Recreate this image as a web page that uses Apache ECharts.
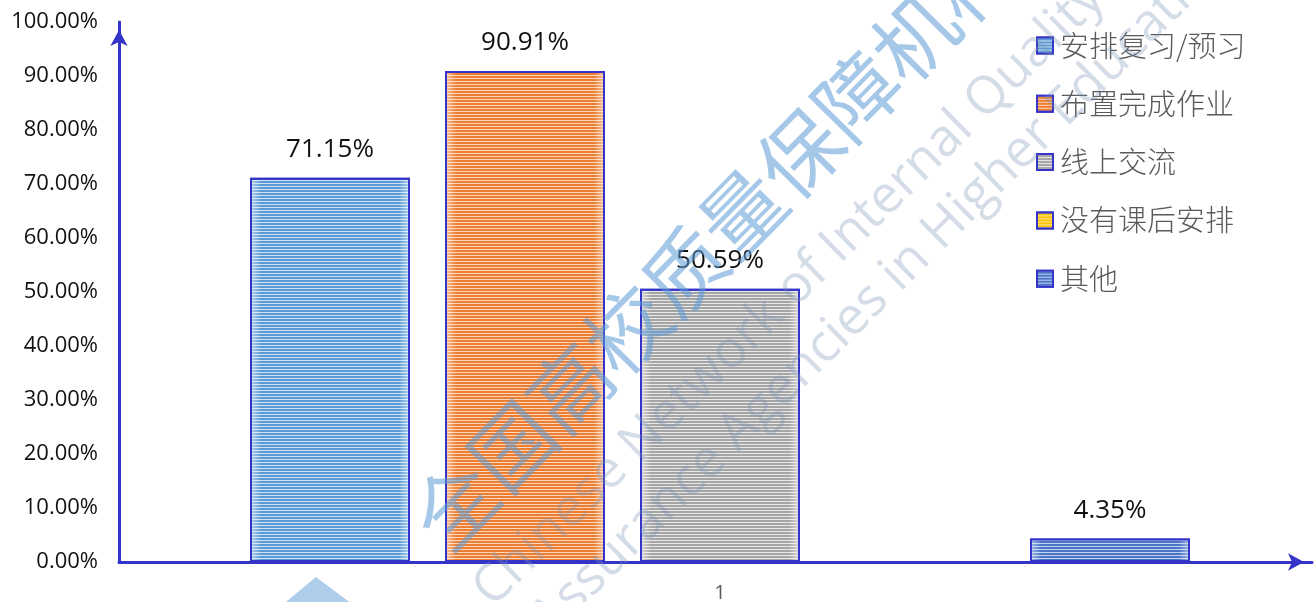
<!DOCTYPE html>
<html>
<head>
<meta charset="utf-8">
<script src="https://cdn.jsdelivr.net/npm/echarts@6/dist/echarts.min.js"></script>
<style>html,body{margin:0;padding:0;background:#fff}#c{width:1314px;height:602px}</style>
</head>
<body>
<div id="c"></div>
<script>
const categories = ['1'];
const seriesNames = ['安排复习/预习', '布置完成作业', '线上交流', '没有课后安排', '其他'];
const values = [71.15, 90.91, 50.59, null, 4.35];
const yTicks = [0, 10, 20, 30, 40, 50, 60, 70, 80, 90, 100];

const baseColors = ['#5b9bd5', '#ed7d31', '#a5a5a5', '#ffc000', '#4a74c6'];
const edgeColors = ['#b9d5ee', '#f8c8a6', '#dcdcdc', '#ffe08a', '#a9bfe6'];
const stripeColors = ['rgba(235,243,252,0.8)', 'rgba(255,238,225,0.8)', 'rgba(245,245,245,0.85)', 'rgba(255,245,205,0.8)', 'rgba(225,233,250,0.8)'];
const AXIS = '#3434c8';

const chart = echarts.init(document.getElementById('c'));
const series = seriesNames.map((name, i) => ({
  name: name,
  type: 'bar',
  xAxisIndex: 1,
  yAxisIndex: 1,
  barWidth: 160,
  barGap: '21.875%',
  data: [values[i] === null ? '-' : values[i]],
  itemStyle: {
    color: {
      type: 'linear', x: 0, y: 0, x2: 1, y2: 0,
      colorStops: [
        { offset: 0, color: edgeColors[i] },
        { offset: 0.07, color: baseColors[i] },
        { offset: 0.93, color: baseColors[i] },
        { offset: 1, color: edgeColors[i] }
      ]
    },
    borderColor: AXIS,
    borderWidth: 2,
    decal: {
      symbol: 'rect',
      symbolSize: 1,
      dashArrayX: [1, 0],
      dashArrayY: [1, 2],
      rotation: 0,
      color: stripeColors[i]
    }
  },
  label: {
    show: true,
    position: 'top',
    distance: 15,
    formatter: p => p.value.toFixed(2) + '%',
    fontSize: 26,
    color: '#111',
    fontFamily: 'Open Sans'
  }
}));

const rad = Math.PI / 180;
const option = {
  animation: false,
  backgroundColor: '#fff',
  legend: {
    orient: 'vertical',
    left: 1031,
    top: 26,
    itemWidth: 16,
    itemHeight: 16,
    itemGap: 29.3,
    icon: 'rect',
    data: seriesNames,
    textStyle: { fontSize: 29, color: '#5a5a5a', fontFamily: 'Noto Sans CJK SC', fontWeight: 300, padding: [0, 0, 0, 2] }
  },
  grid: [
    { left: 119, right: 2, top: 22, bottom: 40, outerBoundsMode: 'none' },
    { left: 119, width: 1202, top: 22, bottom: 40, outerBoundsMode: 'none' }
  ],
  xAxis: [
    {
      type: 'category', gridIndex: 0, data: categories,
      axisLine: { show: true, lineStyle: { color: AXIS, width: 3 }, symbol: ['none', 'arrow'], symbolSize: [13, 16], symbolOffset: [0, -8] },
      axisTick: { show: false },
      axisLabel: { show: false }
    },
    {
      type: 'category', gridIndex: 1, data: categories,
      axisLine: { show: false },
      axisTick: { show: false },
      axisLabel: { show: true, margin: 21, fontSize: 20, color: '#595959', fontFamily: 'Open Sans' }
    }
  ],
  yAxis: [
    {
      type: 'value', gridIndex: 0, min: 0, max: 100, interval: 10,
      axisLine: { show: true, lineStyle: { color: AXIS, width: 3 }, symbol: ['none', 'arrow'], symbolSize: [13, 16], symbolOffset: [0, -8] },
      axisTick: { show: false },
      splitLine: { show: false },
      axisLabel: { margin: 21, fontSize: 22, color: '#111', fontFamily: 'Open Sans', formatter: v => v.toFixed(2) + '%' }
    },
    {
      type: 'value', gridIndex: 1, min: 0, max: 100, interval: 10,
      axisLine: { show: false }, axisTick: { show: false }, splitLine: { show: false }, axisLabel: { show: false }
    }
  ],
  series: series,
  graphic: [
    {
      type: 'text', z: 100, x: 426, y: 534, rotation: 45.5 * rad,
      style: { text: '全国高校质量保障机构联盟', fill: 'rgba(91,155,213,0.55)', fontSize: 82, fontFamily: 'Noto Sans CJK SC', verticalAlign: 'middle', align: 'left' }
    },
    {
      type: 'text', z: 100, x: 482, y: 598, rotation: 44.7 * rad,
      style: { text: 'Chinese Network of Internal Quality', fill: 'rgba(120,150,180,0.32)', fontSize: 52, fontFamily: 'Open Sans', verticalAlign: 'middle', align: 'left' }
    },
    {
      type: 'text', z: 100, x: 540, y: 628, rotation: 44.7 * rad,
      style: { text: 'Assurance Agencies in Higher Education', fill: 'rgba(120,150,180,0.32)', fontSize: 52, fontFamily: 'Open Sans', verticalAlign: 'middle', align: 'left' }
    },
    {
      type: 'polygon', z: 100,
      shape: { points: [[316, 577], [240, 640], [400, 640]] },
      style: { fill: 'rgba(91,155,213,0.5)' }
    }
  ]
};
chart.setOption(option);
</script>
</body>
</html>
